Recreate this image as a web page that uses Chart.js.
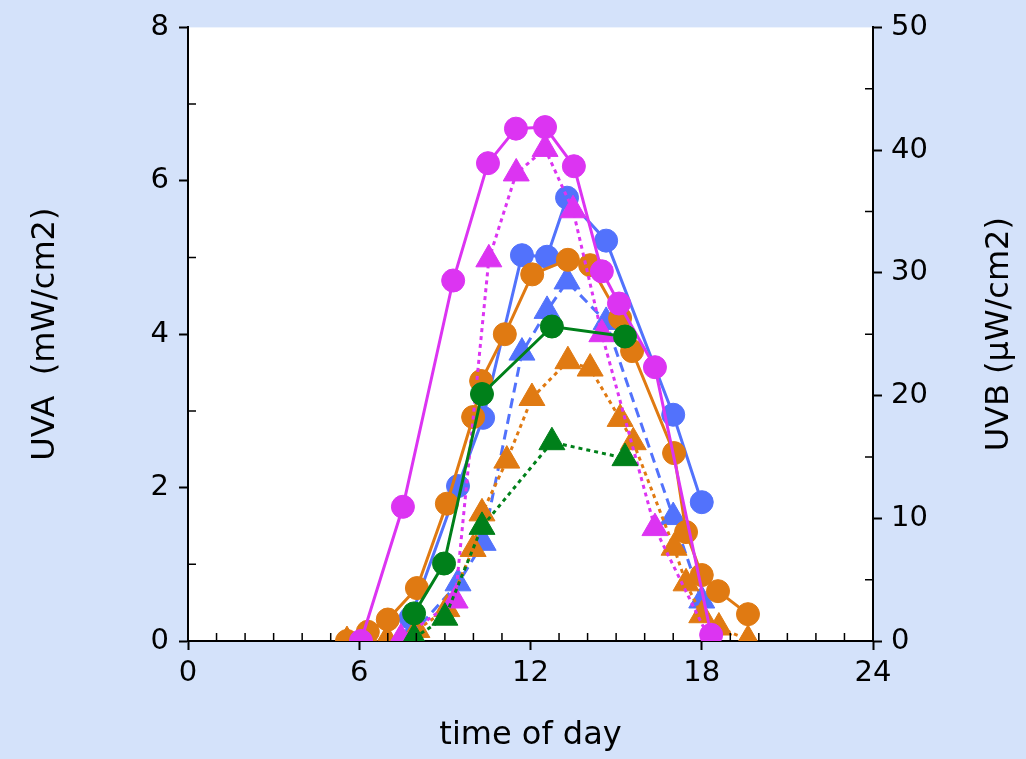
<!DOCTYPE html>
<html>
<head>
<meta charset="utf-8">
<script src="https://cdn.jsdelivr.net/npm/chart.js@4.4.1/dist/chart.umd.min.js"></script>
<style>
  html, body { margin: 0; padding: 0; background: #d4e2fa; }
  canvas { display: block; }
</style>
</head>
<body>
<canvas id="uvChart" width="1026" height="759"></canvas>
<script>
// hours of day and readings
var magentaHoursA = [6.06, 7.53, 9.29, 10.51, 11.49, 12.51, 13.52, 14.5, 15.1, 16.36, 18.33];
var magentaUVA    = [0.0, 1.75, 4.70, 6.23, 6.68, 6.70, 6.19, 4.82, 4.40, 3.57, 0.08];
var magentaHoursB = [7.46, 9.36, 10.54, 11.5, 12.51, 13.49, 14.5, 16.36, 18.3];
var magentaUVB    = [0.2, 3.3, 31.1, 38.1, 40.1, 35.1, 25.0, 9.2, 0.0];

var blueHoursA = [7.8, 9.46, 10.34, 11.7, 12.58, 13.28, 14.65, 17.0, 18.0];
var blueUVA    = [0.3, 2.02, 2.91, 5.03, 5.01, 5.78, 5.22, 2.95, 1.81];
var blueHoursB = [7.8, 9.46, 10.34, 11.7, 12.58, 13.28, 14.65, 17.0, 18.0];
var blueUVB    = [0.4, 4.7, 8.0, 23.5, 26.9, 29.3, 26.0, 10.1, 3.3];

var orangeHoursA = [5.57, 6.3, 7.0, 8.02, 9.07, 9.99, 10.27, 11.1, 12.06, 13.31, 14.09, 15.14, 15.56, 17.03, 17.45, 18.0, 18.57, 19.62];
var orangeUVA    = [0.0, 0.12, 0.28, 0.69, 1.79, 2.92, 3.39, 4.0, 4.78, 4.97, 4.9, 4.21, 3.78, 2.45, 1.42, 0.86, 0.65, 0.35];
var orangeHoursB = [5.57, 6.3, 6.97, 8.02, 9.07, 9.99, 10.3, 11.17, 12.05, 13.31, 14.09, 15.14, 15.6, 17.03, 17.45, 18.0, 18.6, 19.62];
var orangeUVB    = [0.0, 0.05, 0.1, 0.9, 2.6, 7.5, 10.4, 14.7, 19.8, 22.8, 22.2, 18.1, 16.2, 7.6, 4.7, 2.1, 1.1, 0.1];

var greenHoursA = [7.92, 8.97, 10.3, 12.75, 15.31];
var greenUVA    = [0.36, 1.01, 3.22, 4.1, 3.97];
var greenHoursB = [7.92, 9.0, 10.3, 12.75, 15.31];
var greenUVB    = [0.25, 1.9, 9.3, 16.2, 14.9];

var xTickStep = 6, uvaTickStep = 2, uvbTickStep = 10;
var uvbTitle = 'UVB (μW/cm2)';

var magenta = '#dc34f2', blue = '#5272fc', orange = '#e07a12', green = '#00801a';
var tickFont = { family: 'DejaVu Sans', size: 29 };
var titleFont = { family: 'DejaVu Sans', size: 32 };

function series(hours, vals, axis, color, style, dash) {
    return {
        data: hours.map(function (h, i) { return { x: h, y: vals[i] }; }),
        yAxisID: axis,
        showLine: true,
        borderColor: color,
        backgroundColor: color,
        borderWidth: 3,
        borderDash: dash,
        pointStyle: style,
        pointRadius: style === 'circle' ? 11.5 : 15,
        pointBorderWidth: 1,
        pointBorderColor: color
    };
}

var bgPlugin = {
    id: 'bg',
    beforeDraw: function (chart) {
        var c = chart.ctx, a = chart.chartArea;
        c.save();
        c.fillStyle = '#d4e2fa';
        c.fillRect(0, 0, chart.width, chart.height);
        c.fillStyle = '#ffffff';
        c.fillRect(a.left, a.top, a.right - a.left, a.bottom - a.top);
        c.restore();
    }
};

// minor ticks point into the plot, major ones out; right title reads upward
var minorTicks = {
    id: 'minorTicks',
    afterDraw: function (chart) {
        var c = chart.ctx, a = chart.chartArea, s = chart.scales;
        c.save();
        c.strokeStyle = '#000';
        c.lineWidth = 1.5;
        c.beginPath();
        s.x.ticks.forEach(function (t) {
            if (t.value % xTickStep !== 0) {
                var px = s.x.getPixelForValue(t.value);
                c.moveTo(px, a.bottom); c.lineTo(px, a.bottom - 8);
            }
        });
        s.y.ticks.forEach(function (t) {
            if (t.value % uvaTickStep !== 0) {
                var py = s.y.getPixelForValue(t.value);
                c.moveTo(a.left, py); c.lineTo(a.left + 8, py);
            }
        });
        s.y2.ticks.forEach(function (t) {
            if (t.value % uvbTickStep !== 0) {
                var py = s.y2.getPixelForValue(t.value);
                c.moveTo(a.right, py); c.lineTo(a.right - 8, py);
            }
        });
        c.stroke();

        c.translate(s.y2.right - 26, (a.top + a.bottom) / 2);
        c.rotate(-Math.PI / 2);
        c.fillStyle = '#000';
        c.font = titleFont.size + 'px "' + titleFont.family + '"';
        c.textAlign = 'center';
        c.textBaseline = 'middle';
        c.fillText(uvbTitle, 0, 0);
        c.restore();
    }
};

function majorOnly(step) {
    return function (ctx) {
        return ctx.tick && ctx.tick.value % step === 0 ? '#000' : 'rgba(0,0,0,0)';
    };
}

new Chart(document.getElementById('uvChart').getContext('2d'), {
    type: 'scatter',
    data: {
        datasets: [
            series(greenHoursA, greenUVA, 'y', green, 'circle', []),
            series(greenHoursB, greenUVB, 'y2', green, 'triangle', [4, 4]),
            series(magentaHoursA, magentaUVA, 'y', magenta, 'circle', []),
            series(magentaHoursB, magentaUVB, 'y2', magenta, 'triangle', [4, 4]),
            series(orangeHoursA, orangeUVA, 'y', orange, 'circle', []),
            series(orangeHoursB, orangeUVB, 'y2', orange, 'triangle', [4, 4]),
            series(blueHoursA, blueUVA, 'y', blue, 'circle', []),
            series(blueHoursB, blueUVB, 'y2', blue, 'triangle', [10, 6])
        ]
    },
    options: {
        responsive: false,
        animation: false,
        layout: { padding: { top: 25, left: 0, right: 0, bottom: 0 } },
        plugins: { legend: { display: false }, tooltip: { enabled: false } },
        scales: {
            x: {
                type: 'linear', min: 0, max: 24,
                afterFit: function (s) { s.height = 118; },
                ticks: {
                    stepSize: 1, autoSkip: false, maxRotation: 0, padding: 6,
                    color: '#000', font: tickFont,
                    callback: function (v) { return v % xTickStep === 0 ? v : ''; }
                },
                grid: { drawOnChartArea: false, tickLength: 9, tickWidth: 2, tickColor: majorOnly(xTickStep) },
                border: { color: '#000', width: 2 },
                title: { display: true, text: 'time of day', color: '#000', font: titleFont, padding: { top: 0, bottom: 4 } }
            },
            y: {
                position: 'left', min: 0, max: 8,
                afterFit: function (s) { s.width = 188; },
                ticks: {
                    stepSize: 1, autoSkip: false, padding: 10,
                    color: '#000', font: tickFont,
                    callback: function (v) { return v % uvaTickStep === 0 ? v : ''; }
                },
                grid: { drawOnChartArea: false, tickLength: 9, tickWidth: 2, tickColor: majorOnly(uvaTickStep) },
                border: { color: '#000', width: 2 },
                title: { display: true, text: 'UVA  (mW/cm2)', color: '#000', font: titleFont, padding: { top: 26, bottom: 0 } }
            },
            y2: {
                position: 'right', min: 0, max: 50,
                afterFit: function (s) { s.width = 153; },
                ticks: {
                    stepSize: 5, autoSkip: false, padding: 9,
                    color: '#000', font: tickFont,
                    callback: function (v) { return v % uvbTickStep === 0 ? v : ''; }
                },
                grid: { drawOnChartArea: false, tickLength: 9, tickWidth: 2, tickColor: majorOnly(uvbTickStep) },
                border: { color: '#000', width: 2 }
            }
        }
    },
    plugins: [bgPlugin, minorTicks]
});
</script>
</body>
</html>
